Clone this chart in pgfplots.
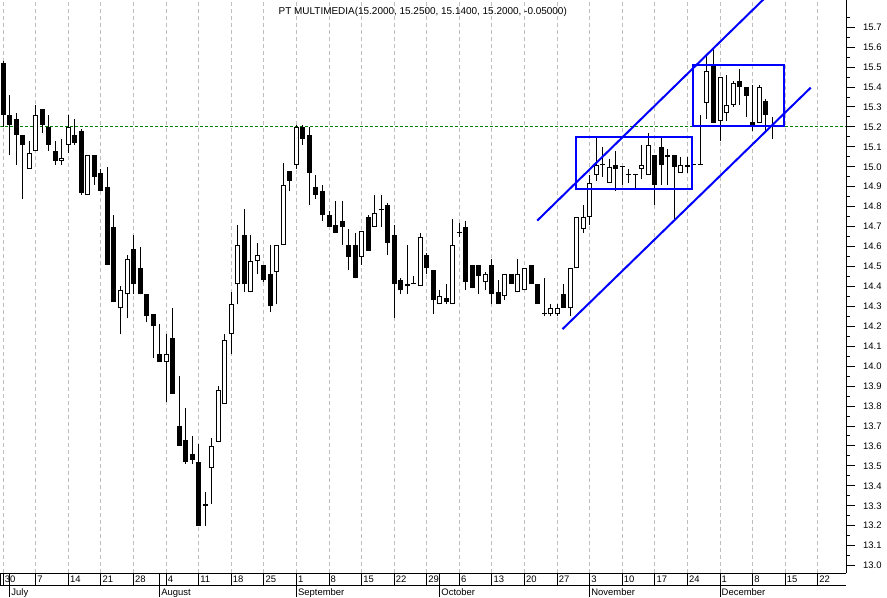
\documentclass[border=0pt]{standalone}
\usepackage{pgfplots}
\pgfplotsset{compat=1.18}
\usepackage{pgfplotstable}
\usepackage{fontspec}
\setmainfont{Liberation Sans}

% down (black) candles
\pgfplotstableread{
i O H L C
0 15.52 15.53 15.20 15.26
1 15.26 15.36 15.06 15.21
2 15.24 15.27 15.01 15.16
3 15.16 15.16 14.84 15.11
6 15.29 15.29 15.17 15.21
7 15.20 15.26 15.08 15.11
8 15.08 15.13 15.01 15.03
11 15.16 15.24 15.11 15.12
12 15.18 15.19 14.86 14.87
14 15.06 15.06 14.91 14.95
15 14.97 14.99 14.88 14.88
16 14.90 15.00 14.51 14.51
17 14.70 14.76 14.32 14.32
20 14.59 14.66 14.36 14.41
21 14.49 14.60 14.36 14.36
22 14.36 14.36 14.22 14.25
23 14.26 14.26 14.04 14.20
24 14.06 14.21 14.02 14.02
26 14.14 14.29 13.86 13.86
27 13.70 13.95 13.60 13.60
28 13.63 13.79 13.51 13.52
29 13.56 13.65 13.51 13.53
30 13.52 13.61 13.20 13.20
37 14.66 14.79 14.37 14.41
40 14.51 14.51 14.42 14.43
41 14.46 14.61 14.27 14.30
44 14.98 14.98 14.88 14.93
46 15.20 15.21 15.11 15.14
47 15.16 15.20 14.81 14.97
48 14.90 14.96 14.84 14.86
49 14.88 14.91 14.73 14.76
50 14.76 14.78 14.70 14.70
51 14.71 14.83 14.67 14.67
52 14.73 14.83 14.61 14.70
53 14.61 14.69 14.48 14.55
54 14.61 14.67 14.44 14.44
56 14.75 14.76 14.58 14.58
59 14.81 14.82 14.56 14.62
60 14.66 14.71 14.24 14.41
61 14.43 14.44 14.36 14.38
62 14.41 14.61 14.36 14.40
65 14.56 14.57 14.46 14.49
66 14.48 14.48 14.26 14.33
68 14.34 14.41 14.31 14.32
71 14.70 14.73 14.38 14.42
72 14.51 14.51 14.39 14.39
73 14.51 14.51 14.36 14.45
75 14.51 14.54 14.31 14.36
76 14.37 14.43 14.31 14.31
78 14.46 14.46 14.41 14.41
81 14.51 14.51 14.41 14.41
82 14.41 14.41 14.31 14.31
86 14.36 14.41 14.29 14.29
94 15.01 15.08 14.88 14.99
100 15.06 15.06 14.81 14.91
101 15.10 15.15 14.91 15.01
103 15.06 15.06 14.74 15.00
109 15.51 15.60 15.22 15.22
113 15.43 15.49 15.31 15.40
114 15.40 15.40 15.25 15.355
115 15.225 15.41 15.18 15.21
117 15.33 15.34 15.17 15.26
}\downtab

% up (white) candles and dojis
\pgfplotstableread{
i O H L C
4 14.99 15.13 14.99 15.07
5 15.08 15.31 15.08 15.26
9 15.03 15.14 15.01 15.045
10 15.11 15.26 15.07 15.20
13 14.86 15.06 14.86 15.06
18 14.29 14.40 14.16 14.38
19 14.36 14.56 14.24 14.54
25 14.02 14.16 13.82 14.06
31 13.30 13.37 13.20 13.31
32 13.49 13.64 13.31 13.60
33 13.62 13.90 13.62 13.88
34 13.81 14.16 13.81 14.13
35 14.16 14.37 14.06 14.31
36 14.41 14.71 14.31 14.61
38 14.37 14.66 14.37 14.53
39 14.53 14.62 14.46 14.56
42 14.47 14.61 14.31 14.61
43 14.61 15.02 14.61 14.91
45 15.01 15.21 14.99 15.20
55 14.55 14.68 14.51 14.68
57 14.70 14.86 14.70 14.77
58 14.785 14.86 14.70 14.785
63 14.41 14.45 14.41 14.41
64 14.40 14.67 14.40 14.65
67 14.31 14.38 14.31 14.35
69 14.31 14.74 14.31 14.61
70 14.67 14.72 14.65 14.67
74 14.42 14.47 14.38 14.46
77 14.35 14.46 14.33 14.46
79 14.37 14.54 14.37 14.46
80 14.38 14.49 14.38 14.49
83 14.26 14.44 14.25 14.26
84 14.26 14.31 14.25 14.29
85 14.26 14.31 14.25 14.29
87 14.29 14.49 14.25 14.49
88 14.49 14.75 14.49 14.75
89 14.69 14.81 14.67 14.75
90 14.75 14.96 14.71 14.92
91 14.96 15.15 14.93 15.01
92 15.01 15.10 14.95 15.01
93 14.92 15.04 14.92 15.00
95 15.00 15.00 14.91 15.00
96 14.96 14.99 14.92 14.96
97 14.96 14.96 14.89 14.96
98 14.99 15.11 14.94 15.01
99 14.96 15.17 14.96 15.11
102 15.05 15.09 14.91 15.06
104 14.97 15.05 14.97 15.01
105 15.00 15.05 14.97 15.01
106 15.01 15.01 15.01 15.01
107 15.01 15.26 15.01 15.01
108 15.32 15.56 15.24 15.48
110 15.23 15.45 15.13 15.45
111 15.27 15.46 15.23 15.31
112 15.31 15.43 15.30 15.42
116 15.22 15.41 15.22 15.40
118 15.20 15.25 15.14 15.20
}\uptab

\definecolor{grn}{RGB}{0,128,0}
\definecolor{grid}{RGB}{190,190,190}

\begin{document}
\begin{tikzpicture}
\fontsize{9.5}{11}\selectfont
\begin{axis}[
  scale only axis, width=846bp, height=573bp,
  xmin=-0.414, xmax=129.34, ymin=12.962, ymax=15.834,
  axis x line*=bottom, axis y line*=right,
  axis line style={black, line width=1bp},
  xtick={0,5,...,125}, xticklabels={},
  major x tick style={draw=none},
  xmajorgrids,
  x grid style={draw=grid, line width=1bp, dash pattern=on 4bp off 3bp},
  ytick={13.0,13.1,13.2,13.3,13.4,13.5,13.6,13.7,13.8,13.9,14.0,14.1,14.2,14.3,14.4,14.5,14.6,14.7,14.8,14.9,15.0,15.1,15.2,15.3,15.4,15.5,15.6,15.7},
  minor ytick={13.05,13.15,13.25,13.35,13.45,13.55,13.65,13.75,13.85,13.95,14.05,14.15,14.25,14.35,14.45,14.55,14.65,14.75,14.85,14.95,15.05,15.15,15.25,15.35,15.45,15.55,15.65,15.75},
  tick align=outside, major tick length=9bp, minor tick length=4bp,
  y tick style={black, line width=1bp},
  yticklabel style={anchor=west, inner sep=0pt, xshift=8bp,
    font=\fontsize{9.5}{11}\selectfont},
  y tick label style={/pgf/number format/.cd, fixed, fixed zerofill, precision=1, assume math mode=true},
]
% last close level
\addplot[grn, line width=1bp, dash pattern=on 3bp off 2bp] coordinates {(-0.414,15.2) (129.34,15.2)};
% wicks
\addplot[draw=none, mark=none, forget plot, error bars/.cd, y dir=plus, y explicit, error mark=none,
  error bar style={draw=black, line width=1bp}]
  table[x=i, y=L, y error expr=\thisrow{H}-\thisrow{L}] {\downtab};
\addplot[draw=none, mark=none, forget plot, error bars/.cd, y dir=plus, y explicit, error mark=none,
  error bar style={draw=black, line width=1bp}]
  table[x=i, y=L, y error expr=\thisrow{H}-\thisrow{L}] {\uptab};
% black bodies
\addplot[draw=none, mark=none, forget plot, error bars/.cd, y dir=plus, y explicit, error mark=none,
  error bar style={draw=black, line width=5bp}]
  table[x=i, y=C, y error expr=\thisrow{O}-\thisrow{C}] {\downtab};
% white bodies: outline then fill
\addplot[draw=none, mark=none, forget plot, error bars/.cd, y dir=plus, y explicit, error mark=none,
  error bar style={draw=black, line width=5bp}]
  table[x=i, y=O, y error expr={max(\thisrow{C}-\thisrow{O},0.005)}] {\uptab};
\addplot[draw=none, mark=none, forget plot, error bars/.cd, y dir=plus, y explicit, error mark=none,
  error bar style={draw=white, line width=3bp}]
  table[x=i, y expr=\thisrow{O}+0.005, y error expr={max(\thisrow{C}-\thisrow{O}-0.01,0)}] {\uptab};
% channel lines
\addplot[blue, line width=2bp] coordinates {(81.95,14.730) (117.0,15.85)};
\addplot[blue, line width=2bp] coordinates {(85.83,14.186) (123.93,15.397)};
% boxes
\addplot[blue, line width=2bp, line join=miter] coordinates {(87.93,14.887) (87.93,15.149) (105.67,15.149) (105.67,14.887)} -- cycle;
\addplot[blue, line width=2bp, line join=miter] coordinates {(105.83,15.203) (105.83,15.509) (119.83,15.509) (119.83,15.203)} -- cycle;
\end{axis}
% title
\node[anchor=base, inner sep=0pt, font=\fontsize{10}{12}\selectfont] at (422.5bp,559bp)
  {PT MULTIMEDIA(15.2000, 15.2500, 15.1400, 15.2000, -0.05000)};
% date rows
\draw[line width=1bp] (0,-12bp) -- (846bp,-12bp);
\draw[line width=1bp] (0.5bp,0) -- (0.5bp,-12bp);
\foreach \i/\lab in {0/30,5/7,10/14,15/21,20/28,25/4,30/11,35/18,40/25,45/1,50/8,55/15,60/22,65/29,70/6,75/13,80/20,85/27,90/3,95/10,100/17,105/24,110/1,115/8,120/15,125/22}{
  \pgfmathsetmacro{\xx}{2.7+6.52*\i}
  \draw[line width=1bp] (\xx bp,0) -- (\xx bp,-12bp);
  \node[anchor=base west, inner sep=0pt] at (\xx bp+1.5bp,-9.7bp) {\lab};
}
\foreach \i/\m in {1/July,24/August,45/September,67/October,90/November,110/December}{
  \pgfmathsetmacro{\xx}{2.7+6.52*\i}
  \draw[line width=1bp] (\xx bp,0) -- (\xx bp,-24bp);
  \node[anchor=base west, inner sep=0pt] at (\xx bp+1.5bp,-22.5bp) {\m};
}
\path[use as bounding box] (0,-24bp) rectangle (887bp,573bp);
\end{tikzpicture}
\end{document}
